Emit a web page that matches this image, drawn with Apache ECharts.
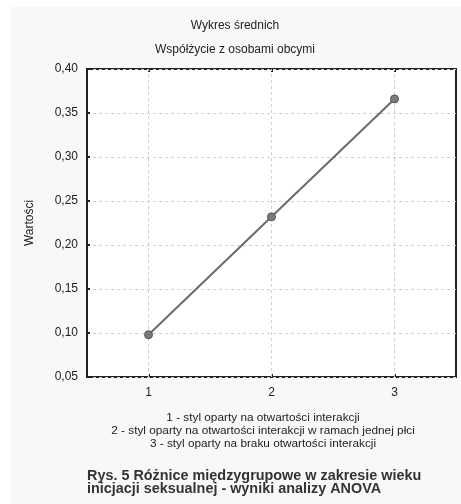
<!DOCTYPE html>
<html>
<head>
<meta charset="utf-8">
<script src="https://cdn.jsdelivr.net/npm/echarts@6/dist/echarts.min.js"></script>
<style>
html,body{margin:0;padding:0;background:#fff;}
#c{width:461px;height:504px;}
</style>
</head>
<body>
<div id="c"></div>
<script>
var categories = ['1', '2', '3'];
var means = [0.098, 0.232, 0.366];
var yMin = 0.05, yMax = 0.40, yStep = 0.05;
var titleLine1 = 'Wykres średnich';
var titleLine2 = 'Współżycie z osobami obcymi';
var yName = 'Wartości';
var legendLines = [
  '1 - styl oparty na otwartości interakcji',
  '2 - styl oparty na otwartości interakcji w ramach jednej płci',
  '3 - styl oparty na braku otwartości interakcji'
];
var captionLines = [
  'Rys. 5 Różnice międzygrupowe w zakresie wieku',
  'inicjacji seksualnej - wyniki analizy ANOVA'
];

var FONT = '"Liberation Sans", Arial, sans-serif';
var chart = echarts.init(document.getElementById('c'), null, {renderer: 'canvas'});

var graphics = [
  {type: 'rect', shape: {x: 10, y: 7, width: 451, height: 497}, style: {fill: '#f8f8f8'}, z: -100, silent: true}
];
legendLines.forEach(function (t, i) {
  graphics.push({type: 'text', x: 263, y: 418 + i * 13, style: {text: t, fontFamily: FONT, fontSize: 11.8, fill: '#222', textAlign: 'center', textVerticalAlign: 'middle'}});
});
captionLines.forEach(function (t, i) {
  graphics.push({type: 'text', x: 87, y: 476 + i * 13, style: {text: t, fontFamily: FONT, fontSize: 14.4, fontWeight: 'bold', fill: '#333', textAlign: 'left', textVerticalAlign: 'middle'}});
});
graphics.push({type: 'text', x: 235, y: 26, style: {text: titleLine1, fontFamily: FONT, fontSize: 12, fill: '#222', textAlign: 'center', textVerticalAlign: 'middle'}});
graphics.push({type: 'text', x: 235, y: 50, style: {text: titleLine2, fontFamily: FONT, fontSize: 12, fill: '#222', textAlign: 'center', textVerticalAlign: 'middle'}});

var option = {
  animation: false,
  backgroundColor: '#ffffff',
  textStyle: {fontFamily: FONT},
  graphic: graphics,
  grid: {left: 87, right: 5, top: 69, bottom: 127, show: true, backgroundColor: '#ffffff', borderColor: '#222', borderWidth: 2},
  xAxis: [{
    type: 'category',
    data: categories,
    boundaryGap: true,
    axisLine: {show: false},
    axisTick: {show: true, inside: true, alignWithLabel: true, length: 3, lineStyle: {color: '#222', width: 2}},
    axisLabel: {color: '#222', fontSize: 12, margin: 10, fontFamily: FONT},
    splitLine: {show: false}
  }, {
    type: 'category',
    data: categories,
    position: 'top',
    boundaryGap: true,
    axisLine: {show: false},
    axisTick: {show: true, inside: true, alignWithLabel: true, length: 3, lineStyle: {color: '#222', width: 2}},
    axisLabel: {show: false},
    splitLine: {show: false}
  }],
  yAxis: {
    type: 'value',
    min: yMin,
    max: yMax,
    interval: yStep,
    name: yName,
    nameLocation: 'middle',
    nameRotate: 90,
    nameGap: 51,
    nameTextStyle: {color: '#222', fontSize: 12, fontFamily: FONT},
    axisLine: {show: false},
    axisTick: {show: true, inside: true, length: 3, lineStyle: {color: '#222', width: 2}},
    axisLabel: {color: '#222', fontSize: 12, margin: 9, fontFamily: FONT, formatter: function (v) { return v.toFixed(2).replace('.', ','); }},
    splitLine: {show: true, lineStyle: {color: '#cfcfcf', type: [3, 3], width: 1}}
  },
  series: [{
    type: 'line',
    data: means,
    xAxisIndex: 0,
    lineStyle: {color: '#6a6a6a', width: 2},
    symbol: 'circle',
    symbolSize: 8,
    itemStyle: {color: '#7a7a7a', borderColor: '#555', borderWidth: 1},
    z: 5,
    markLine: {
      silent: true,
      symbol: ['none', 'none'],
      label: {show: false},
      lineStyle: {color: '#cfcfcf', type: [3, 3], width: 1},
      z: 1,
      data: categories.map(function (c) { return {xAxis: c}; })
    }
  }]
};
chart.setOption(option);
</script>
</body>
</html>
